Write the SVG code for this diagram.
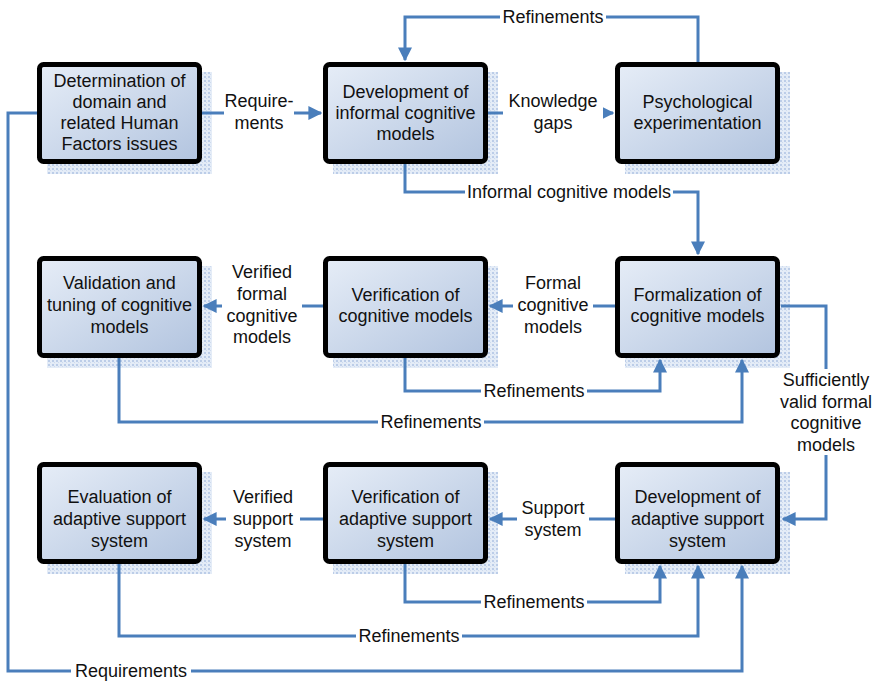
<svg xmlns="http://www.w3.org/2000/svg" width="877" height="686" viewBox="0 0 877 686">
  <defs>
    <linearGradient id="boxFill" x1="0" y1="0" x2="1" y2="1">
      <stop offset="0" stop-color="#e6edf7"/>
      <stop offset="1" stop-color="#b2c4df"/>
    </linearGradient>
    <pattern id="shadowDots" width="4" height="4" patternUnits="userSpaceOnUse">
      <rect width="4" height="4" fill="#e4ecf7"/>
      <rect width="2" height="2" fill="#bccde8"/>
      <rect x="2" y="2" width="1" height="1" fill="#cddaee"/>
    </pattern>
    <marker id="arrow" viewBox="0 0 10 10" refX="9" refY="5" markerWidth="14" markerHeight="14" markerUnits="userSpaceOnUse" orient="auto">
      <path d="M0,0 L10,5 L0,10 z" fill="#4a7ebb"/>
    </marker>
  </defs>
  <style>
    .shadow { fill: url(#shadowDots); }
    .box { fill: url(#boxFill); stroke: #000; stroke-width: 5; }
    .nt, .lt { font-family: "Liberation Sans", Arial, sans-serif; font-size: 18px; fill: #111; text-anchor: middle; }
    .wire { fill: none; stroke: #4a7ebb; stroke-width: 3; }
    .bg { fill: #fff; }
  </style>
  <rect width="877" height="686" fill="#fff"/>

  <!-- row 1 -->
  <g id="node-domain">
    <rect class="shadow" x="47" y="72" width="165" height="102"/>
    <rect class="box" x="39.5" y="64.5" width="160" height="97" rx="4"/>
    <text class="nt" x="119.5" y="87">Determination of</text>
    <text class="nt" x="119.5" y="108">domain and</text>
    <text class="nt" x="119.5" y="129">related Human</text>
    <text class="nt" x="119.5" y="150">Factors issues</text>
  </g>
  <g id="node-informal">
    <rect class="shadow" x="333" y="72" width="165" height="102"/>
    <rect class="box" x="325.5" y="64.5" width="160" height="97" rx="4"/>
    <text class="nt" x="405.5" y="98">Development of</text>
    <text class="nt" x="405.5" y="119">informal cognitive</text>
    <text class="nt" x="405.5" y="140">models</text>
  </g>
  <g id="node-psych">
    <rect class="shadow" x="625" y="72" width="165" height="102"/>
    <rect class="box" x="617.5" y="64.5" width="160" height="97" rx="4"/>
    <text class="nt" x="697.5" y="108">Psychological</text>
    <text class="nt" x="697.5" y="129">experimentation</text>
  </g>

  <!-- row 2 -->
  <g id="node-validation">
    <rect class="shadow" x="47" y="266" width="165" height="102"/>
    <rect class="box" x="39.5" y="258.5" width="160" height="97" rx="4"/>
    <text class="nt" x="119.5" y="289">Validation and</text>
    <text class="nt" x="119.5" y="311">tuning of cognitive</text>
    <text class="nt" x="119.5" y="333">models</text>
  </g>
  <g id="node-verification">
    <rect class="shadow" x="333" y="266" width="165" height="102"/>
    <rect class="box" x="325.5" y="258.5" width="160" height="97" rx="4"/>
    <text class="nt" x="405.5" y="301">Verification of</text>
    <text class="nt" x="405.5" y="322">cognitive models</text>
  </g>
  <g id="node-formalization">
    <rect class="shadow" x="625" y="266" width="165" height="102"/>
    <rect class="box" x="617.5" y="258.5" width="160" height="97" rx="4"/>
    <text class="nt" x="697.5" y="301">Formalization of</text>
    <text class="nt" x="697.5" y="322">cognitive models</text>
  </g>

  <!-- row 3 -->
  <g id="node-evaluation">
    <rect class="shadow" x="47" y="472" width="165" height="102"/>
    <rect class="box" x="39.5" y="464.5" width="160" height="97" rx="4"/>
    <text class="nt" x="119.5" y="503">Evaluation of</text>
    <text class="nt" x="119.5" y="525">adaptive support</text>
    <text class="nt" x="119.5" y="547">system</text>
  </g>
  <g id="node-verify-support">
    <rect class="shadow" x="333" y="472" width="165" height="102"/>
    <rect class="box" x="325.5" y="464.5" width="160" height="97" rx="4"/>
    <text class="nt" x="405.5" y="503">Verification of</text>
    <text class="nt" x="405.5" y="525">adaptive support</text>
    <text class="nt" x="405.5" y="547">system</text>
  </g>
  <g id="node-develop-support">
    <rect class="shadow" x="625" y="472" width="165" height="102"/>
    <rect class="box" x="617.5" y="464.5" width="160" height="97" rx="4"/>
    <text class="nt" x="697.5" y="503">Development of</text>
    <text class="nt" x="697.5" y="525">adaptive support</text>
    <text class="nt" x="697.5" y="547">system</text>
  </g>

  <!-- connectors, drawn over the box shadows -->
  <g id="connectors">
    <path class="wire" d="M202,113 L321,113" marker-end="url(#arrow)"/>
    <path class="wire" d="M488,113 L613,113" marker-end="url(#arrow)"/>
    <path class="wire" d="M698,62 L698,17 L405,17 L405,60" marker-end="url(#arrow)"/>
    <path class="wire" d="M405,164 L405,192 L698,192 L698,254" marker-end="url(#arrow)"/>
    <path class="wire" d="M615,306 L490,306" marker-end="url(#arrow)"/>
    <path class="wire" d="M323,306 L204,306" marker-end="url(#arrow)"/>
    <path class="wire" d="M405,358 L405,391 L660,391 L660,360" marker-end="url(#arrow)"/>
    <path class="wire" d="M119,358 L119,422 L742,422 L742,360" marker-end="url(#arrow)"/>
    <path class="wire" d="M781,306 L826,306 L826,519 L783,519" marker-end="url(#arrow)"/>
    <path class="wire" d="M615,519 L490,519" marker-end="url(#arrow)"/>
    <path class="wire" d="M323,519 L204,519" marker-end="url(#arrow)"/>
    <path class="wire" d="M405,564 L405,602 L660,602 L660,566" marker-end="url(#arrow)"/>
    <path class="wire" d="M119,564 L119,636 L698,636 L698,566" marker-end="url(#arrow)"/>
    <path class="wire" d="M37,113 L8,113 L8,671 L742,671 L742,566" marker-end="url(#arrow)"/>

    <!-- connector labels -->
    <rect class="bg" x="224" y="91" width="70" height="44"/>
    <text class="lt" x="259" y="107">Require-</text>
    <text class="lt" x="259" y="129">ments</text>

    <rect class="bg" x="503" y="91" width="100" height="44"/>
    <text class="lt" x="553" y="107">Knowledge</text>
    <text class="lt" x="553" y="129">gaps</text>

    <rect class="bg" x="500" y="8" width="106" height="18"/>
    <text class="lt" x="553" y="23">Refinements</text>

    <rect class="bg" x="465" y="183" width="208" height="18"/>
    <text class="lt" x="569" y="198">Informal cognitive models</text>

    <rect class="bg" x="513" y="273" width="80" height="64"/>
    <text class="lt" x="553" y="289">Formal</text>
    <text class="lt" x="553" y="311">cognitive</text>
    <text class="lt" x="553" y="333">models</text>

    <rect class="bg" x="222" y="262" width="80" height="86"/>
    <text class="lt" x="262" y="278">Verified</text>
    <text class="lt" x="262" y="300">formal</text>
    <text class="lt" x="262" y="322">cognitive</text>
    <text class="lt" x="262" y="343">models</text>

    <rect class="bg" x="481" y="382" width="106" height="18"/>
    <text class="lt" x="534" y="397">Refinements</text>

    <rect class="bg" x="378" y="413" width="106" height="18"/>
    <text class="lt" x="431" y="428">Refinements</text>

    <rect class="bg" x="776" y="369" width="100" height="86"/>
    <text class="lt" x="826" y="386">Sufficiently</text>
    <text class="lt" x="826" y="408">valid formal</text>
    <text class="lt" x="826" y="429">cognitive</text>
    <text class="lt" x="826" y="451">models</text>

    <rect class="bg" x="517" y="497" width="72" height="44"/>
    <text class="lt" x="553" y="514">Support</text>
    <text class="lt" x="553" y="536">system</text>

    <rect class="bg" x="226" y="486" width="74" height="66"/>
    <text class="lt" x="263" y="503">Verified</text>
    <text class="lt" x="263" y="525">support</text>
    <text class="lt" x="263" y="547">system</text>

    <rect class="bg" x="481" y="593" width="106" height="18"/>
    <text class="lt" x="534" y="608">Refinements</text>

    <rect class="bg" x="356" y="627" width="106" height="18"/>
    <text class="lt" x="409" y="642">Refinements</text>

    <rect class="bg" x="71" y="662" width="120" height="18"/>
    <text class="lt" x="131" y="677">Requirements</text>
  </g>
</svg>
